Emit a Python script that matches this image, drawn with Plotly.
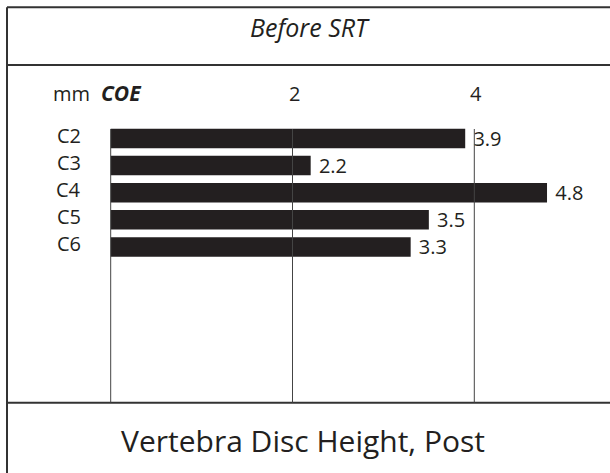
import plotly.graph_objects as go

categories = ["C2", "C3", "C4", "C5", "C6"]
values = [3.9, 2.2, 4.8, 3.5, 3.3]
tick_vals = [2, 4]
grid_vals = [0, 2, 4]
title_top = "Before SRT"
title_bottom = "Vertebra Disc Height, Post"

W, H = 610, 473
INK = "#231f20"
LINE = "#333333"
FONT = "Open Sans, Noto Sans, DejaVu Sans, sans-serif"

# pixel mapping: x=0 -> 110.7px, 90.9 px per unit
x0px, xs = 110.7, 90.9
xr = [-x0px / xs, (W - x0px) / xs]
# categories: C2 center at 138.5px, pitch 27.1px
y0px, ys = 138.5, 27.1
yr = [(H - y0px) / ys, -y0px / ys]


def py(p):
    return 1 - p / H


def px(p):
    return p / W


fig = go.Figure()
fig.add_trace(go.Bar(
    x=values, y=list(range(len(categories))), orientation="h",
    marker=dict(color=INK, line=dict(width=0)),
    text=["\u00a0" + f"{v:.1f}" for v in values], textposition="outside",
    constraintext="none",
    textfont=dict(family=FONT, size=20, color=INK),
    cliponaxis=False, hoverinfo="skip",
))

shapes = []
# outer frame: left edge and top edge (right/bottom lie beyond the canvas)
shapes.append(dict(type="line", xref="paper", yref="paper",
                   x0=px(7), x1=px(7), y0=0, y1=py(7.3),
                   line=dict(color=LINE, width=2), layer="above"))
for yy in (7.3, 65, 402.7):
    shapes.append(dict(type="line", xref="paper", yref="paper",
                       x0=px(7), x1=1.02, y0=py(yy), y1=py(yy),
                       line=dict(color=LINE, width=2), layer="above"))
for g in grid_vals:
    shapes.append(dict(type="line", xref="x", yref="paper",
                       x0=g, x1=g, y0=py(129), y1=py(402.7),
                       line=dict(color="#444444", width=1), layer="above"))

ann = []
ann.append(dict(text=f"<i>{title_top}</i>", xref="paper", yref="paper",
                x=px(309.5), y=py(27), xanchor="center", yanchor="middle",
                showarrow=False, font=dict(family=FONT, size=25, color=INK)))
ann.append(dict(text=title_bottom, xref="paper", yref="paper",
                x=px(303), y=py(440), xanchor="center", yanchor="middle",
                showarrow=False, font=dict(family=FONT, size=30, color=INK)))
ann.append(dict(text="mm", xref="paper", yref="paper",
                x=px(71), y=py(93), xanchor="center", yanchor="middle",
                showarrow=False, font=dict(family=FONT, size=20, color=INK)))
ann.append(dict(text="<b><i>COE</i></b>", xref="paper", yref="paper",
                x=px(121.5), y=py(93), xanchor="center", yanchor="middle",
                showarrow=False, font=dict(family=FONT, size=21, color=INK)))
for t in tick_vals:
    ann.append(dict(text=str(t), xref="x", yref="paper",
                    x=t + 0.02, y=py(93), xanchor="center", yanchor="middle",
                    showarrow=False, font=dict(family=FONT, size=20, color=INK)))
for i, c in enumerate(categories):
    ann.append(dict(text=c, xref="paper", yref="y",
                    x=px(83), y=i - 0.12, xanchor="right", yanchor="middle",
                    showarrow=False, font=dict(family=FONT, size=20, color=INK)))

fig.update_layout(
    width=W, height=H, margin=dict(l=0, r=0, t=0, b=0, pad=0),
    paper_bgcolor="white", plot_bgcolor="white",
    bargap=0.28, showlegend=False,
    xaxis=dict(range=xr, visible=False, fixedrange=True, showline=False,
               zeroline=False, showgrid=False),
    yaxis=dict(range=yr, visible=False, fixedrange=True, showline=False,
               zeroline=False, showgrid=False),
    shapes=shapes, annotations=ann,
)
fig.write_html(
    "out.html",
    config={"displayModeBar": False, "staticPlot": True},
    post_script=(
        "document.documentElement.style.margin='0';"
        "document.documentElement.style.overflow='hidden';"
        "document.body.style.margin='0';document.body.style.overflow='hidden';"
        "document.body.style.border='0';"
    ),
)
